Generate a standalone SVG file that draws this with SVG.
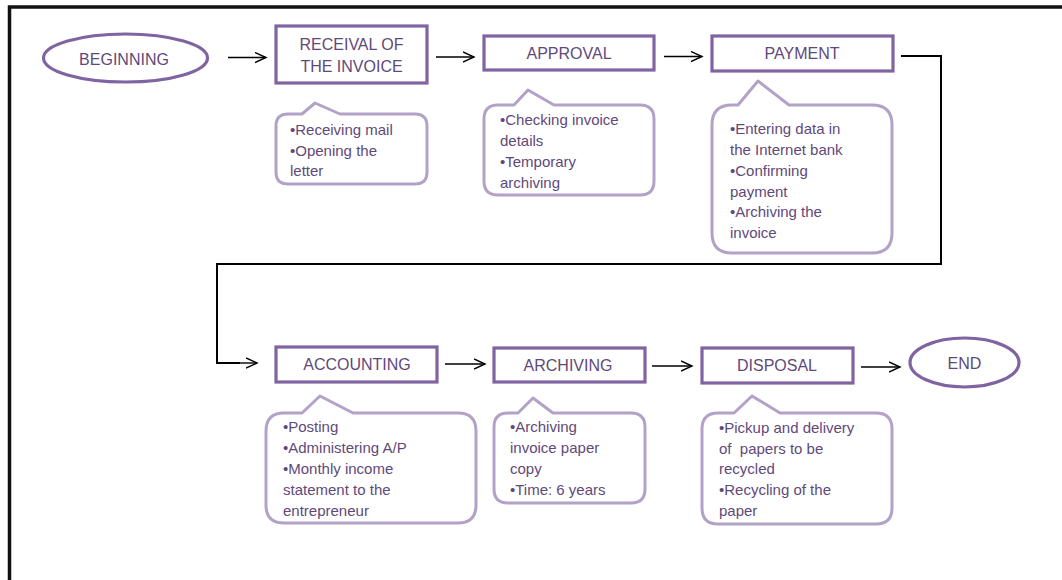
<svg xmlns="http://www.w3.org/2000/svg" width="1062" height="580" viewBox="0 0 1062 580">
<style>
.box{fill:#fff;stroke:#8064A2;stroke-width:3.2}
.call{fill:#fff;stroke:#B3A2C7;stroke-width:3;stroke-linejoin:round}
.h{font-family:"Liberation Sans",Arial,sans-serif;font-size:16px;fill:#5F497A;text-anchor:middle}
.t{font-family:"Liberation Sans",Arial,sans-serif;font-size:15px;fill:#5F497A}
.c{fill:none;stroke:#000;stroke-width:1.4}
.c2{fill:none;stroke:#000;stroke-width:2}
</style>
<defs>
<marker id="ah" markerUnits="userSpaceOnUse" markerWidth="14" markerHeight="14" refX="11" refY="6" orient="auto">
<path d="M0,1 L11,6 L0,11" fill="none" stroke="#000" stroke-width="1.4"/>
</marker>
</defs>
<rect x="0" y="0" width="1062" height="580" fill="#fff"/>
<rect x="9.5" y="7" width="1100" height="620" fill="none" stroke="#111" stroke-width="3.5"/>

<g id="connectors">
<line class="c" x1="228" y1="57.5" x2="266" y2="57.5" marker-end="url(#ah)"/>
<line class="c" x1="436" y1="57" x2="474" y2="57" marker-end="url(#ah)"/>
<line class="c" x1="664" y1="56.5" x2="702" y2="56.5" marker-end="url(#ah)"/>
<polyline class="c2" points="901,56 941,56 941,264 217,264 217,363 240,363"/>
<line class="c" x1="238" y1="363" x2="257" y2="363" marker-end="url(#ah)"/>
<line class="c" x1="445" y1="364" x2="485" y2="364" marker-end="url(#ah)"/>
<line class="c" x1="652" y1="366" x2="692" y2="366" marker-end="url(#ah)"/>
<line class="c" x1="861" y1="367" x2="900" y2="367" marker-end="url(#ah)"/>
</g>

<g id="beginning">
<ellipse cx="125.5" cy="58" rx="82" ry="24" class="box"/>
<text x="124" y="65" class="h">BEGINNING</text>
</g>

<g id="receival">
<rect x="276" y="26" width="151" height="57" class="box"/>
<text x="351.5" y="50" class="h">RECEIVAL OF</text>
<text x="351.5" y="72" class="h">THE INVOICE</text>
</g>
<g id="receival-note">
<path class="call" d="M288,114 L302,114 L315,103 L340,114 L415,114 Q427,114 427,126 L427,172 Q427,184 415,184 L288,184 Q276,184 276,172 L276,126 Q276,114 288,114 Z"/>
<text class="t" x="290" y="135">•Receiving mail</text>
<text class="t" x="290" y="156">•Opening the</text>
<text class="t" x="290" y="176">letter</text>
</g>

<g id="approval">
<rect x="484" y="36" width="170" height="34" class="box"/>
<text x="569" y="59" class="h">APPROVAL</text>
</g>
<g id="approval-note">
<path class="call" d="M498,105 L514,105 L528,90 L554,105 L640,105 Q654,105 654,119 L654,181 Q654,195 640,195 L498,195 Q484,195 484,181 L484,119 Q484,105 498,105 Z"/>
<text class="t" x="500" y="125">•Checking invoice</text>
<text class="t" x="500" y="146">details</text>
<text class="t" x="500" y="167">•Temporary</text>
<text class="t" x="500" y="188">archiving</text>
</g>

<g id="payment">
<rect x="712" y="36" width="181" height="35" class="box"/>
<text x="802" y="59" class="h">PAYMENT</text>
</g>
<g id="payment-note">
<path class="call" d="M732,105 L738,105 L758,81 L789,105 L872,105 Q892,105 892,125 L892,233 Q892,253 872,253 L732,253 Q712,253 712,233 L712,125 Q712,105 732,105 Z"/>
<text class="t" x="730" y="134">•Entering data in</text>
<text class="t" x="730" y="155">the Internet bank</text>
<text class="t" x="730" y="176">•Confirming</text>
<text class="t" x="730" y="197">payment</text>
<text class="t" x="730" y="217">•Archiving the</text>
<text class="t" x="730" y="238">invoice</text>
</g>

<g id="accounting">
<rect x="276" y="347" width="161" height="35" class="box"/>
<text x="357" y="370" class="h">ACCOUNTING</text>
</g>
<g id="accounting-note">
<path class="call" d="M284,413 L302,413 L320,396 L353,413 L458,413 Q476,413 476,431 L476,505 Q476,523 458,523 L284,523 Q266,523 266,505 L266,431 Q266,413 284,413 Z"/>
<text class="t" x="283" y="432">•Posting</text>
<text class="t" x="283" y="453">•Administering A/P</text>
<text class="t" x="283" y="474">•Monthly income</text>
<text class="t" x="283" y="495">statement to the</text>
<text class="t" x="283" y="516">entrepreneur</text>
</g>

<g id="archiving">
<rect x="494" y="348" width="151" height="34" class="box"/>
<text x="568" y="371" class="h">ARCHIVING</text>
</g>
<g id="archiving-note">
<path class="call" d="M508,413 L518,413 L533,398 L553,413 L631,413 Q645,413 645,427 L645,489 Q645,503 631,503 L508,503 Q494,503 494,489 L494,427 Q494,413 508,413 Z"/>
<text class="t" x="510" y="432">•Archiving</text>
<text class="t" x="510" y="453">invoice paper</text>
<text class="t" x="510" y="474">copy</text>
<text class="t" x="510" y="495">•Time: 6 years</text>
</g>

<g id="disposal">
<rect x="702" y="348" width="151" height="35" class="box"/>
<text x="777" y="371" class="h">DISPOSAL</text>
</g>
<g id="disposal-note">
<path class="call" d="M718,413 L734,413 L752,396 L780,413 L876,413 Q892,413 892,429 L892,508 Q892,524 876,524 L718,524 Q702,524 702,508 L702,429 Q702,413 718,413 Z"/>
<text class="t" x="719" y="433">•Pickup and delivery</text>
<text class="t" x="719" y="454">of&#160; papers to be</text>
<text class="t" x="719" y="474">recycled</text>
<text class="t" x="719" y="495">•Recycling of the</text>
<text class="t" x="719" y="516">paper</text>
</g>

<g id="end">
<ellipse cx="964.5" cy="362.5" rx="54.5" ry="24.5" class="box"/>
<text x="964.5" y="369" class="h">END</text>
</g>
</svg>
